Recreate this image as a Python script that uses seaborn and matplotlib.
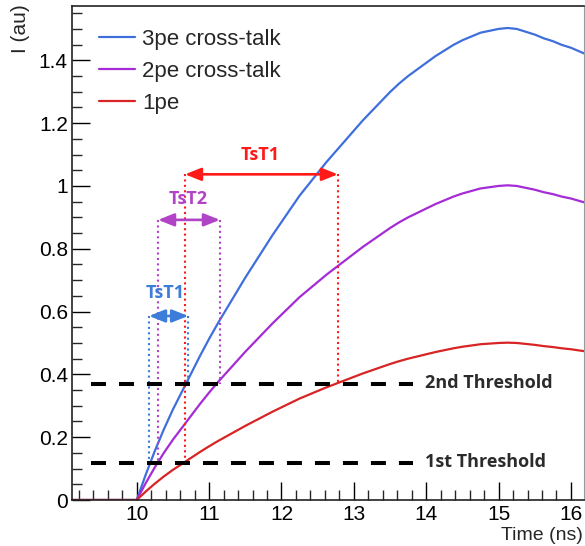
import matplotlib
matplotlib.use("Agg")
import matplotlib.pyplot as plt
from matplotlib.ticker import MultipleLocator, FuncFormatter
from matplotlib.patches import ArrowStyle
import seaborn as sns
import pandas as pd

# Pulse shapes (current vs time) for 1, 2 and 3 photo-electrons
time_ns = [9.1, 10.0, 10.125, 10.25, 10.375, 10.5, 10.625, 10.75, 10.875, 11.0,
           11.125, 11.25, 11.375, 11.5, 11.625, 11.75, 11.875, 12.0,
           12.125, 12.25, 12.375, 12.5, 12.625, 12.75, 12.875, 13.0,
           13.125, 13.25, 13.375, 13.5, 13.625, 13.75, 13.875, 14.0,
           14.125, 14.25, 14.375, 14.5, 14.625, 14.75, 14.875, 15.0,
           15.125, 15.25, 15.375, 15.5, 15.625, 15.75, 15.875, 16.0, 16.18]
pe1 = [0, 0, 0.027, 0.052, 0.075, 0.096, 0.115, 0.134, 0.153, 0.171,
       0.188, 0.204, 0.220, 0.236, 0.251, 0.266, 0.281, 0.295,
       0.309, 0.323, 0.335, 0.347, 0.359, 0.370, 0.381, 0.392,
       0.403, 0.413, 0.423, 0.433, 0.442, 0.450, 0.457, 0.464,
       0.471, 0.477, 0.483, 0.488, 0.492, 0.496, 0.498, 0.500,
       0.501, 0.500, 0.497, 0.494, 0.490, 0.487, 0.483, 0.480, 0.474]
pe2 = [0, 0, 0.054, 0.104, 0.150, 0.192, 0.230, 0.268, 0.306, 0.342,
       0.376, 0.408, 0.440, 0.472, 0.502, 0.532, 0.562, 0.590,
       0.618, 0.646, 0.670, 0.694, 0.718, 0.740, 0.762, 0.784,
       0.806, 0.826, 0.846, 0.866, 0.884, 0.900, 0.914, 0.928,
       0.942, 0.954, 0.966, 0.976, 0.984, 0.992, 0.996, 1.000,
       1.002, 1.000, 0.994, 0.988, 0.980, 0.974, 0.966, 0.960, 0.948]
pe3 = [0, 0, 0.081, 0.156, 0.225, 0.288, 0.345, 0.402, 0.459, 0.513,
       0.564, 0.612, 0.660, 0.708, 0.753, 0.798, 0.843, 0.885,
       0.927, 0.969, 1.005, 1.041, 1.077, 1.110, 1.143, 1.176,
       1.209, 1.239, 1.269, 1.299, 1.326, 1.350, 1.371, 1.392,
       1.413, 1.431, 1.449, 1.464, 1.476, 1.488, 1.494, 1.500,
       1.503, 1.500, 1.491, 1.482, 1.470, 1.461, 1.449, 1.440, 1.422]
series_names = ["3pe cross-talk", "2pe cross-talk", "1pe"]
series_colors = ["#3f6fdc", "#a52bd6", "#d82424"]

# Discriminator thresholds
thresholds = [0.117, 0.369]
threshold_labels = ["1st Threshold", "2nd Threshold"]
threshold_span = [9.37, 13.82]

# Time-over-threshold markers
tot_labels = ["TsT1", "TsT2", "TsT1"]
tot_start = [10.667, 10.295, 10.17]
tot_end = [12.78, 11.15, 10.71]
tot_level = [1.037, 0.892, 0.586]
tot_text_x = [11.70, 10.71, 10.40]
tot_text_y = [1.100, 0.958, 0.658]
tot_colors = ["#ff1a1a", "#b043c6", "#3b7dd8"]

n = len(time_ns)
df = pd.DataFrame({
    "Time (ns)": time_ns * 3,
    "I (au)": pe3 + pe2 + pe1,
    "series": [series_names[0]] * n + [series_names[1]] * n + [series_names[2]] * n,
})

sns.set_style("white")
plt.rcParams["font.family"] = ["Liberation Sans", "DejaVu Sans"]

fig = plt.figure(figsize=(5.85, 5.46), dpi=100)
ax = fig.add_axes([72 / 585, 1 - 500 / 546, 512 / 585, 494 / 546])

sns.lineplot(data=df, x="Time (ns)", y="I (au)", hue="series", hue_order=series_names,
             palette=series_colors, linewidth=1.6, ax=ax, legend=True)

ax.set_xlim(9.106, 16.18)
ax.set_ylim(0, 1.573)

# Thresholds
for thr, lab in zip(thresholds, threshold_labels):
    ax.plot(threshold_span, [thr, thr], color="black", lw=2.9,
            linestyle=(0, (3.72, 3.23)), zorder=4)
    ax.text(13.98, thr + 0.004, lab, ha="left", va="center", fontsize=13,
            fontweight="bold", family=["Open Sans", "DejaVu Sans"], color="#2b2b2b")

# Time-over-threshold arrows and guides
for lab, t0, t1, lvl, tx, ty, col in zip(tot_labels, tot_start, tot_end, tot_level,
                                        tot_text_x, tot_text_y, tot_colors):
    ax.plot([t0, t0], [lvl, thresholds[0]], color=col, lw=1.5,
            linestyle=(0, (1.0, 1.6)), zorder=3)
    ax.plot([t1, t1], [lvl, thresholds[1]], color=col, lw=1.5,
            linestyle=(0, (1.0, 1.6)), zorder=3)
    ax.annotate("", xy=(t1, lvl), xytext=(t0, lvl),
                arrowprops=dict(arrowstyle=ArrowStyle("<|-|>", head_length=0.6, head_width=0.24),
                                mutation_scale=16, color=col, lw=1.9,
                                shrinkA=0, shrinkB=0), zorder=5)
    ax.text(tx, ty, lab, ha="center", va="center", fontsize=13, fontweight="bold",
            family=["Open Sans", "DejaVu Sans"], color=col)

# Axes styling
ax.xaxis.set_major_locator(MultipleLocator(1))
ax.xaxis.set_minor_locator(MultipleLocator(0.2))
ax.yaxis.set_major_locator(MultipleLocator(0.2))
ax.yaxis.set_minor_locator(MultipleLocator(0.05))
ax.yaxis.set_major_formatter(FuncFormatter(lambda v, p: f"{v:g}"))
ax.xaxis.set_major_formatter(FuncFormatter(lambda v, p: f"{v:g}"))
ax.tick_params(axis="both", which="major", direction="in", length=13, width=1,
               labelsize=15, colors="black")
ax.tick_params(axis="both", which="minor", direction="in", length=7, width=1)
ax.tick_params(axis="x", which="both", top=False, bottom=True, pad=3.5)
ax.tick_params(axis="y", which="both", left=True, right=False, pad=3)
for side in ["left", "bottom", "top"]:
    ax.spines[side].set_color("#222222")
    ax.spines[side].set_linewidth(1.2)
ax.spines["right"].set_color("#999999")
ax.set_xlabel("")
ax.set_ylabel("")

fig.text(20 / 585, 1 - 4 / 546, "I (au)", rotation=90, ha="center", va="top", fontsize=15)
fig.text(583 / 585, 1 - 544 / 546, "Time (ns)", ha="right", va="bottom", fontsize=14)

handles, labels = ax.get_legend_handles_labels()
ax.legend(handles, labels, loc="upper left", bbox_to_anchor=(0.053, 0.953),
          frameon=False, fontsize=16, handlelength=1.6, handletextpad=0.35,
          labelspacing=0.48, borderpad=0, borderaxespad=0)

fig.savefig("out.png", dpi=100)
